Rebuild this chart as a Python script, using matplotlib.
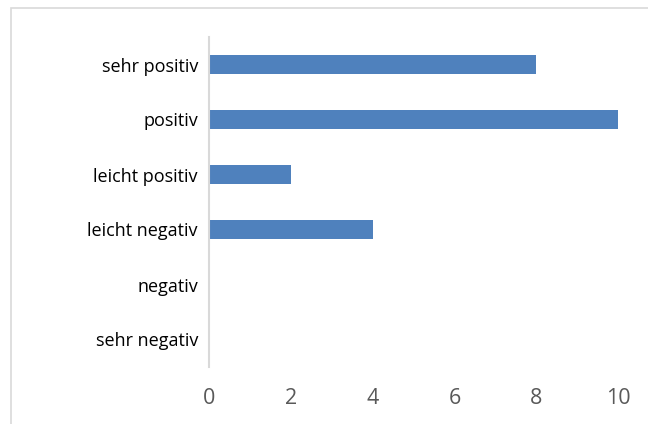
import matplotlib
matplotlib.use("Agg")
import matplotlib.pyplot as plt
from matplotlib.patches import Rectangle

# Kategorien von oben nach unten
kategorien = ["sehr positiv", "positiv", "leicht positiv", "leicht negativ", "negativ", "sehr negativ"]
anzahl = [8, 10, 2, 4, 0, 0]
x_ticks = [0, 2, 4, 6, 8, 10]

plt.rcParams['font.family'] = ['Open Sans', 'DejaVu Sans']

fig = plt.figure(figsize=(6.48, 4.24), dpi=100)
ax = fig.add_axes([209/648, 1 - 367/424, (618-209)/648, (367-37)/424])

pos = list(range(len(kategorien)))
ax.barh(pos, anzahl, height=0.34, color="#4F81BD")
ax.set_ylim(len(kategorien) - 0.5, -0.5)
ax.set_xlim(0, 10)
ax.set_yticks(pos)
ax.set_yticklabels(kategorien, fontsize=13, color="black")
ax.set_xticks(x_ticks)
ax.set_xticklabels([str(t) for t in x_ticks], fontsize=15.5, color="#595959")
ax.tick_params(axis="both", length=0)
ax.tick_params(axis="x", pad=15)
ax.tick_params(axis="y", pad=8)

for s in ["top", "right", "bottom"]:
    ax.spines[s].set_visible(False)
ax.spines["left"].set_color("#D9D9D9")
ax.spines["left"].set_linewidth(1.5)

# Rahmen um das Diagramm (rechts und unten ausserhalb des Bildes)
fig.patches.append(Rectangle((11/648, -0.05), 1.0, 1 - 8/424 + 0.05,
                             transform=fig.transFigure, fill=False,
                             edgecolor="#D9D9D9", linewidth=1.2))

fig.savefig("out.png", dpi=100)
